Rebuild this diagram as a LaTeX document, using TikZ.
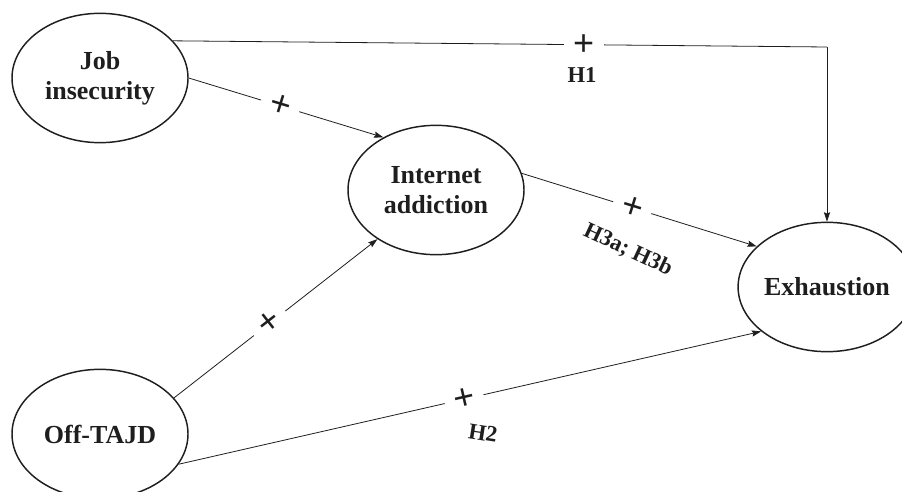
\documentclass[tikz,border=0pt]{standalone}
\usepackage{fontspec}
\setmainfont{Liberation Serif}
\newfontfamily\plusfont{Liberation Sans}
\usetikzlibrary{arrows.meta,shapes.geometric}
\definecolor{ink}{HTML}{1E1E1E}
\tikzset{
  latent/.style={
    ellipse,
    draw=ink,
    line width=1.1pt,
    align=center,
    inner sep=0pt,
    font=\bfseries\fontsize{19.5}{22.5}\selectfont,
    text=ink,
    minimum width=132pt,
    minimum height=97pt
  },
  arrow/.style={
    -{Stealth[length=7pt,width=4.6pt,inset=1pt]},
    draw=ink,
    line width=0.6pt
  },
  link/.style={
    draw=ink,
    line width=0.6pt
  },
  signnode/.style={
    fill=white,
    inner xsep=7pt,
    inner ysep=1pt,
    font=\plusfont\fontsize{27}{27}\selectfont,
    text=ink
  },
  hyp/.style={
    font=\bfseries\fontsize{17}{19}\selectfont,
    text=ink
  }
}

\begin{document}
\begin{tikzpicture}[x=0.75pt,y=-0.75pt]
  \useasboundingbox (0,0) rectangle (902,492);
  \clip (0,0) rectangle (902,492);

  \node[latent] (job) at (100,78) {Job\\insecurity};
  \node[latent] (internet) at (436,190) {Internet\\addiction};
  \node[latent, minimum width=129pt] (exhaust) at (827,287) {Exhaustion};
  \node[latent] (offtajd) at (100,434) {Off-TAJD};

  % H1 path over the top
  \coordinate (h1corner) at (827,47);
  \draw[link] (job.27) -- node[signnode, pos=0.628] (h1sign) {+} (h1corner);
  \draw[arrow] (h1corner) -- (exhaust.north);
  \node[hyp] (h1) at (582,75) {H1};

  \draw[arrow] (job.east) -- node[signnode, sloped, pos=0.47] (jisign) {+} (internet.135);
  \draw[arrow] (internet.11) -- node[signnode, sloped, pos=0.47] (h3sign) {+} (exhaust.150);
  \node[hyp, rotate=-25] (h3) at (628,250) {H3a; H3b};

  \draw[arrow] (offtajd.26) -- node[signnode, sloped, pos=0.47] (oisign) {+} (internet.220);
  \draw[arrow] (offtajd.339) -- node[signnode, sloped, pos=0.49] (h2sign) {+} (exhaust.214);
  \node[hyp, rotate=-9] (h2) at (483,433) {H2};
\end{tikzpicture}
\end{document}
